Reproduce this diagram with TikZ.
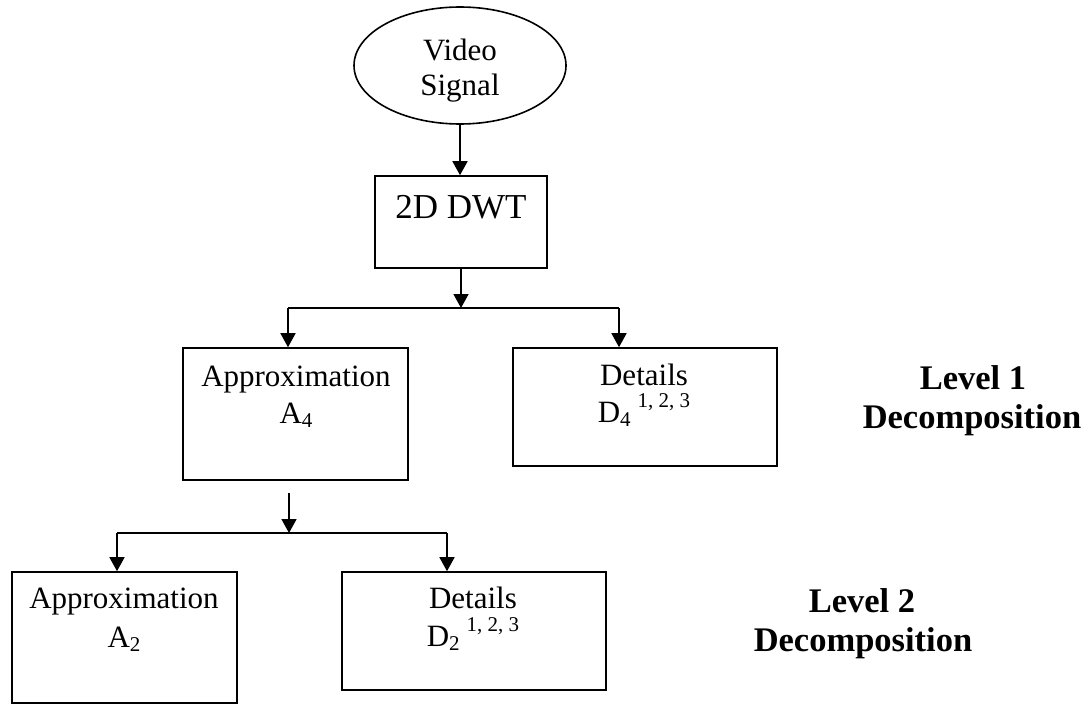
\documentclass[tikz,border=0pt]{standalone}
\usepackage{fontspec}
\setmainfont{Liberation Serif}
\usetikzlibrary{shapes.geometric,arrows.meta}
\newcommand\mysub[1]{\raisebox{-4pt}{\fontsize{21}{21}\selectfont #1}}
\newcommand\mysup[1]{\raisebox{15pt}{\fontsize{21}{21}\selectfont #1}}
\begin{document}
\begin{tikzpicture}[x=1pt,y=-1pt,
  box/.style={draw, line width=1.6pt, rectangle, inner sep=0pt},
  oval/.style={draw, line width=1.6pt, ellipse, inner sep=0pt, minimum width=212pt, minimum height=117pt},
  txt/.style={anchor=base, inner sep=0pt, font=\fontsize{31}{36}\selectfont},
  bigtxt/.style={anchor=base, inner sep=0pt, font=\fontsize{35}{40}\selectfont},
  lvl/.style={anchor=base, inner sep=0pt, font=\fontsize{34.5}{40}\selectfont\bfseries},
  arr/.style={line width=1.6pt, -{Triangle[length=14pt,width=15pt]}},
  ln/.style={line width=1.6pt}]
\useasboundingbox (0,0) rectangle (1086,704);

% shapes
\node[oval] (vs) at (460,65.5) {};
\node[box, minimum width=172pt, minimum height=92pt] (dwt) at (461,222) {};
\node[box, minimum width=225pt, minimum height=132pt] (a4) at (295.5,414) {};
\node[box, minimum width=264pt, minimum height=118pt] (d4) at (645,407) {};
\node[box, minimum width=225pt, minimum height=131pt] (a2) at (124.5,637.5) {};
\node[box, minimum width=264pt, minimum height=118pt] (d2) at (474,631) {};

% texts
\node[txt] (tv) at (460,60) {Video};
\node[txt] (ts) at (460,95) {Signal};
\node[bigtxt] (tdwt) at (461,218) {2D DWT};
\node[txt] (ta4a) at (296,386) {Approximation};
\node[txt] (ta4b) at (296,423) {A\mysub{4}};
\node[txt] (td4a) at (644,385) {Details};
\node[txt] (td4b) at (644,422) {D\mysub{4}\hspace{7pt}\mysup{1, 2, 3}};
\node[txt] (ta2a) at (124,608) {Approximation};
\node[txt] (ta2b) at (124,647) {A\mysub{2}};
\node[txt] (td2a) at (473,608) {Details};
\node[txt] (td2b) at (473,646) {D\mysub{2}\hspace{7pt}\mysup{1, 2, 3}};
\node[lvl] (l1a) at (973,389) {Level 1};
\node[lvl] (l1b) at (972,428) {Decomposition};
\node[lvl] (l2a) at (862,612) {Level 2};
\node[lvl] (l2b) at (863,651) {Decomposition};

% connectors
\draw[arr] (vs.south) -- (vs.south |- dwt.north);
\coordinate (s1) at (461,308);
\coordinate (l1) at (288,308);
\coordinate (r1) at (619,308);
\draw[arr] (dwt.south) -- (s1);
\draw[ln] (l1) -- (r1);
\draw[arr] (l1) -- (l1 |- a4.north);
\draw[arr] (r1) -- (r1 |- d4.north);

\coordinate (t2) at (289,493);
\coordinate (s2) at (289,533);
\coordinate (l2) at (117,533);
\coordinate (r2) at (447,533);
\draw[arr] (t2) -- (s2);
\draw[ln] (l2) -- (r2);
\draw[arr] (l2) -- (l2 |- a2.north);
\draw[arr] (r2) -- (r2 |- d2.north);
\end{tikzpicture}
\end{document}
